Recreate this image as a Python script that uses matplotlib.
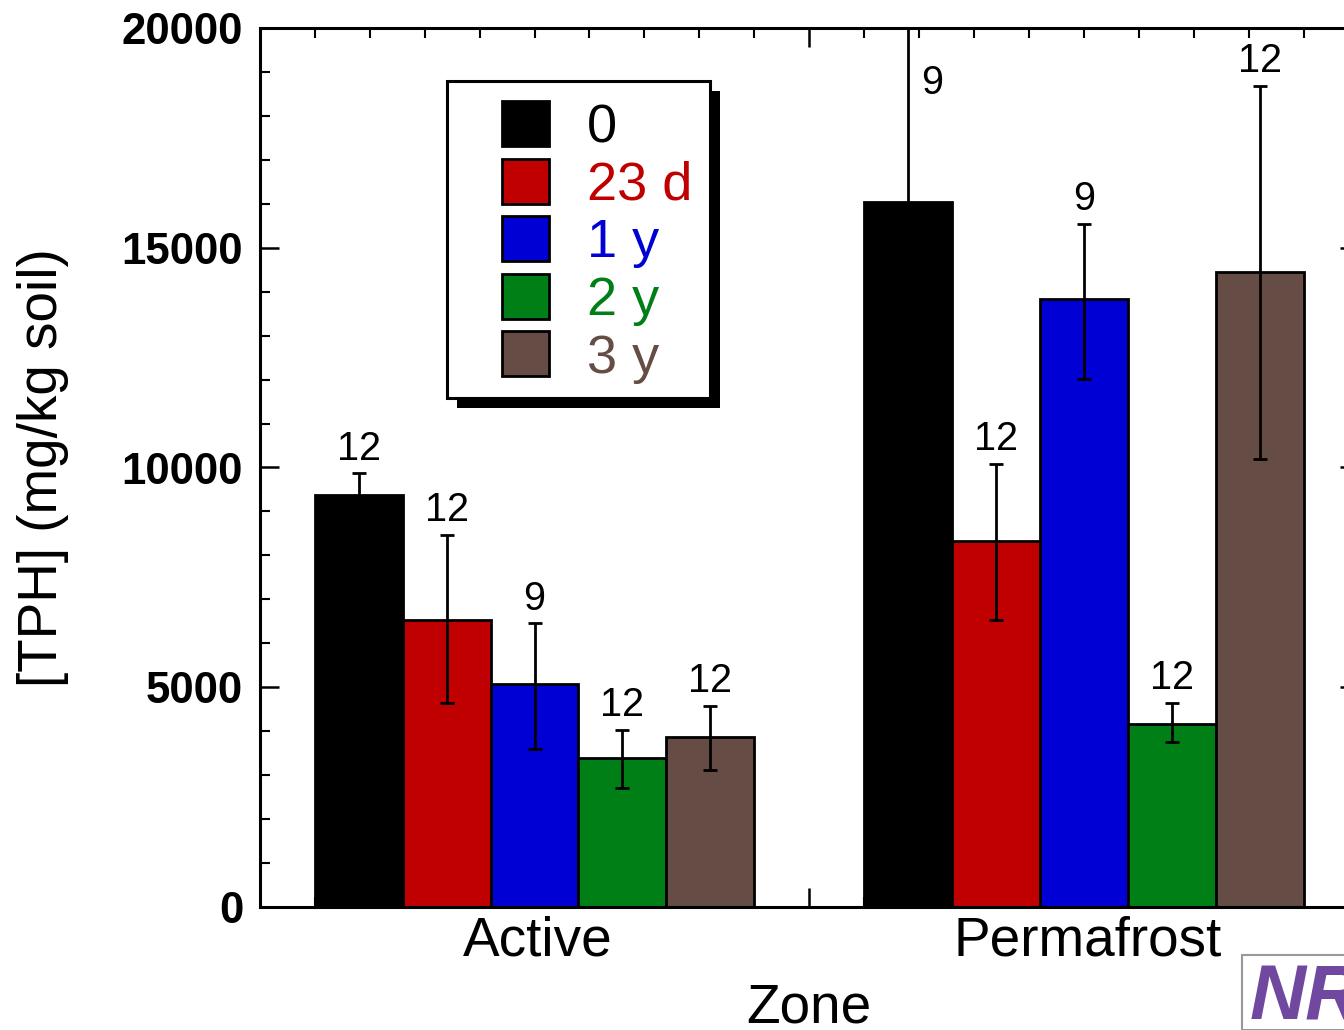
import matplotlib
matplotlib.use('Agg')
import matplotlib.pyplot as plt
import matplotlib.patheffects as pe
from matplotlib.patches import Rectangle
from matplotlib.ticker import MultipleLocator, FixedLocator, NullFormatter
import numpy as np

plt.rcParams['font.family'] = ['Liberation Sans', 'DejaVu Sans']

# ---------------- data ----------------
zones = ['Active', 'Permafrost']
times = ['0', '23 d', '1 y', '2 y', '3 y']
colors = ['#000000', '#C00000', '#0000D4', '#007F17', '#654C45']

tph_0 = [9374, 16046]
tph_23d = [6530, 8328]
tph_1y = [5067, 13834]
tph_2y = [3398, 4164]
tph_3y = [3875, 14437]

err_lo_0 = [490, 4500]
err_hi_0 = [493, 4500]
err_lo_23d = [1896, 1798]
err_hi_23d = [1934, 1752]
err_lo_1y = [1472, 1821]
err_hi_1y = [1388, 1706]
err_lo_2y = [698, 410]
err_hi_2y = [629, 478]
err_lo_3y = [758, 4244]
err_hi_3y = [698, 4243]

n_0 = [12, 9]
n_23d = [12, 12]
n_1y = [9, 9]
n_2y = [12, 12]
n_3y = [12, 12]

y_ticks = [0, 5000, 10000, 15000, 20000]
y_tick_labels = ['0', '5000', '10000', '15000', '20000']

series = [
    (tph_0, err_lo_0, err_hi_0, n_0),
    (tph_23d, err_lo_23d, err_hi_23d, n_23d),
    (tph_1y, err_lo_1y, err_hi_1y, n_1y),
    (tph_2y, err_lo_2y, err_hi_2y, n_2y),
    (tph_3y, err_lo_3y, err_hi_3y, n_3y),
]

# ---------------- figure ----------------
W, H = 1344, 1030
fig = plt.figure(figsize=(W / 100, H / 100), dpi=100)
ax = fig.add_axes([259.75 / W, 123 / H, 1099 / W, 879 / H])
ax.set_xlim(0.5, 2.5)
ax.set_ylim(0, 20000)

centers = np.arange(1, len(zones) + 1)
bw = 0.16
ymax = 20000
for i, ((vals, lo, hi, ns), c, lab) in enumerate(zip(series, colors, times)):
    x = centers + (i - 2) * bw
    ax.bar(x, vals, width=bw, color=c, edgecolor='black', linewidth=2.0,
           yerr=[lo, hi], capsize=5,
           error_kw=dict(elinewidth=2.0, capthick=2.0, ecolor='black'),
           label=lab, zorder=2)
    for xi, v, h, n in zip(x, vals, hi, ns):
        top = v + h
        if top > ymax:
            ax.annotate(str(n), xy=(xi, ymax), xytext=(9, -26),
                        textcoords='offset points', ha='left', va='top',
                        fontsize=28.5, zorder=3)
        else:
            ax.annotate(str(n), xy=(xi, top), xytext=(0, 4),
                        textcoords='offset points', ha='center', va='bottom',
                        fontsize=28.5, zorder=3)

# spines / ticks
for s in ax.spines.values():
    s.set_linewidth(2.2)
ax.xaxis.set_major_locator(FixedLocator([0.5, 1.5, 2.5]))
ax.xaxis.set_major_formatter(NullFormatter())
ax.xaxis.set_minor_locator(MultipleLocator(0.1))
ax.set_yticks(y_ticks)
ax.set_yticklabels(y_tick_labels, fontsize=31.5, fontweight='bold')
ax.yaxis.set_minor_locator(MultipleLocator(1000))
ax.tick_params(which='both', direction='in', top=True, right=True)
ax.tick_params(which='major', length=14, width=1.8)
ax.tick_params(which='minor', length=7, width=1.5)
ax.tick_params(axis='y', pad=12)

sec = ax.secondary_xaxis('bottom')
sec.set_xticks(centers + 0.006, labels=zones)
sec.tick_params(length=0, labelsize=39.5, pad=6)
sec.spines['bottom'].set_visible(False)
sec.set_xlabel('Zone', fontsize=39.5, labelpad=11)

ax.set_ylabel('[TPH] (mg/kg soil)', fontsize=39.5)
ax.yaxis.set_label_coords((69 - 259.75) / 1099, 0.5)

# legend frame with shadow
frame = Rectangle((447 / W, 1 - 398 / H), (710 - 447) / W, (398 - 81) / H,
                  transform=fig.transFigure, facecolor='white', edgecolor='black',
                  linewidth=2.2, zorder=4, clip_on=False)
frame.set_path_effects([pe.SimplePatchShadow(offset=(7.5, -7.5), shadow_rgbFace='black', alpha=1.0),
                        pe.Normal()])
ax.add_patch(frame)

leg = ax.legend(loc='upper left', bbox_to_anchor=(502 / W, 1 - 101 / H),
                bbox_transform=fig.transFigure, frameon=False, fontsize=39,
                handlelength=0.87, handleheight=0.9, handletextpad=0.7,
                labelspacing=0.1, borderpad=0, borderaxespad=0)
leg.set_zorder(5)
for t, c in zip(leg.get_texts(), colors):
    t.set_color(c)

# logo
logo = Rectangle((1242 / W, 0), 0.2, (1030 - 955) / H, transform=fig.transFigure,
                 facecolor='white', edgecolor='#999999', linewidth=1.5, clip_on=False)
fig.add_artist(logo)
fig.text(1250 / W, 1 - 962 / H, 'NRC', fontsize=56, fontweight='bold', style='italic',
         color='#7048A0', ha='left', va='top')

fig.savefig('out.png', dpi=100)
